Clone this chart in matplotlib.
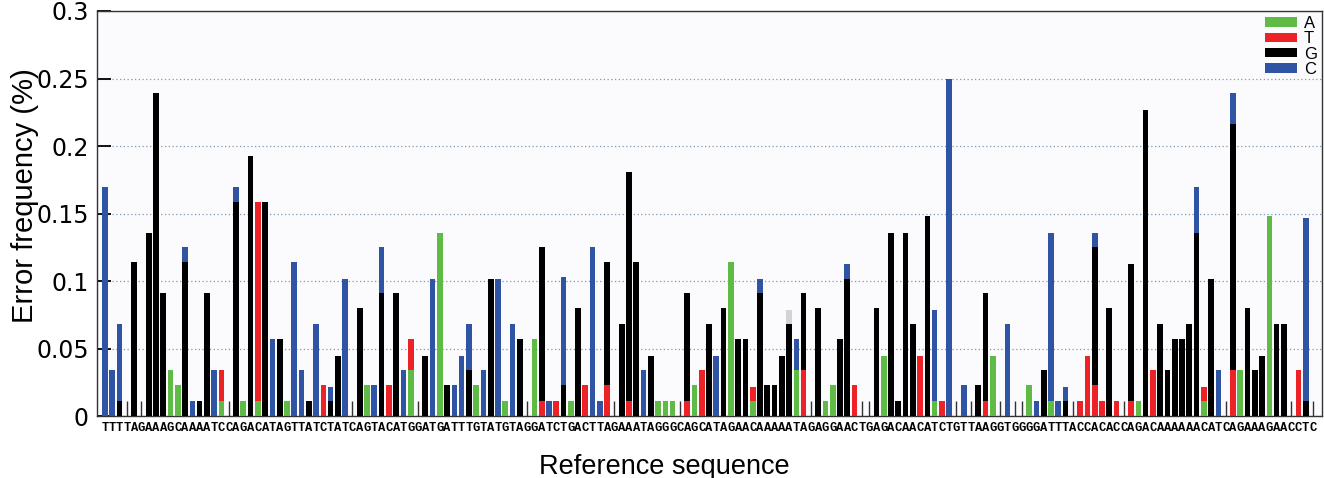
import numpy as np
import matplotlib.pyplot as plt
from matplotlib.patches import Patch

# -----------------------------
# Data: reference sequence and error frequency (%) per position
# -----------------------------
ref_seq = ("TTTTAGAAAGCAAAATCCAGACATAGTTATCTATCAGTACATGGATGATTTGTATGTAGGATCTGACTTA"
           "GAAATAGGGCAGCATAGAACAAAAATAGAGGAACTGAGACAACATCTGTTAAGGTGGGGATTTACCACAC"
           "CAGACAAAAAACATCAGAAAGAACCTC")

# position -> error frequency, one dict per substituted base
err_A = {9: 0.034, 10: 0.023, 16: 0.011, 19: 0.011, 21: 0.011, 25: 0.011, 36: 0.023,
         42: 0.034, 46: 0.136, 51: 0.023, 55: 0.011, 59: 0.057, 64: 0.011, 76: 0.011,
         77: 0.011, 78: 0.011, 81: 0.023, 86: 0.114, 89: 0.011, 95: 0.034, 99: 0.011,
         100: 0.023, 107: 0.045, 114: 0.011, 122: 0.045, 127: 0.023, 130: 0.011,
         142: 0.011, 151: 0.011, 156: 0.034, 160: 0.148}

err_T = {16: 0.023, 21: 0.148, 30: 0.023, 39: 0.023, 42: 0.023, 60: 0.011, 62: 0.011,
         66: 0.023, 69: 0.023, 72: 0.011, 80: 0.011, 82: 0.034, 89: 0.011, 96: 0.034,
         103: 0.023, 112: 0.045, 115: 0.011, 121: 0.011, 134: 0.011, 135: 0.045,
         136: 0.023, 137: 0.011, 139: 0.011, 141: 0.011, 144: 0.034, 151: 0.011,
         155: 0.034, 164: 0.034}

err_G = {2: 0.011, 4: 0.114, 6: 0.136, 7: 0.239, 8: 0.091, 11: 0.114, 13: 0.011,
         14: 0.091, 18: 0.159, 20: 0.193, 22: 0.159, 24: 0.057, 28: 0.011, 31: 0.011,
         32: 0.045, 35: 0.080, 38: 0.091, 40: 0.091, 44: 0.045, 47: 0.023, 50: 0.034,
         53: 0.102, 57: 0.057, 60: 0.114, 63: 0.023, 65: 0.080, 69: 0.091, 71: 0.068,
         72: 0.170, 73: 0.114, 75: 0.045, 80: 0.080, 83: 0.068, 85: 0.080, 87: 0.057,
         88: 0.057, 90: 0.091, 91: 0.023, 92: 0.023, 93: 0.045, 94: 0.068, 96: 0.057,
         98: 0.080, 101: 0.057, 102: 0.102, 106: 0.080, 108: 0.136, 109: 0.011,
         110: 0.136, 111: 0.068, 113: 0.148, 120: 0.023, 121: 0.080, 129: 0.034,
         132: 0.011, 136: 0.102, 138: 0.080, 141: 0.102, 143: 0.227, 145: 0.068,
         146: 0.034, 147: 0.057, 148: 0.057, 149: 0.068, 150: 0.136, 152: 0.102,
         155: 0.182, 157: 0.080, 158: 0.034, 159: 0.045, 161: 0.068, 162: 0.068,
         165: 0.011}

err_C = {0: 0.170, 1: 0.034, 2: 0.057, 11: 0.011, 12: 0.011, 15: 0.034, 18: 0.011,
         23: 0.057, 26: 0.114, 27: 0.034, 29: 0.068, 31: 0.011, 33: 0.102, 37: 0.023,
         38: 0.034, 41: 0.034, 45: 0.102, 48: 0.023, 49: 0.045, 50: 0.034, 52: 0.034,
         54: 0.102, 56: 0.068, 61: 0.011, 63: 0.080, 67: 0.125, 68: 0.011, 74: 0.034,
         84: 0.045, 90: 0.011, 95: 0.023, 102: 0.011, 114: 0.068, 116: 0.250,
         118: 0.023, 124: 0.068, 128: 0.011, 130: 0.125, 131: 0.011, 132: 0.011,
         136: 0.011, 150: 0.034, 153: 0.034, 155: 0.023, 165: 0.136}

err_other = {94: 0.011}   # grey cap, not in legend

bases = ['A', 'T', 'G', 'C']
colors = {'A': '#5fba46', 'T': '#ec2227', 'G': '#000000', 'C': '#2f54a3'}

# -----------------------------
# Plot
# -----------------------------
fig = plt.figure(figsize=(13.24, 4.78), dpi=100)
ax = fig.add_axes([0.0733, 0.129, 0.925, 0.848])
ax.set_facecolor('#fbfbfd')

x = np.arange(len(ref_seq))
bottom = np.zeros(len(x))
layers = [(err_A, colors['A']), (err_T, colors['T']), (err_G, colors['G']),
          (err_C, colors['C']), (err_other, '#d3d3d3')]
for vals, col in layers:
    h = np.array([vals.get(i, 0.0) for i in x])
    ax.bar(x, h, width=0.78, bottom=bottom, color=col, edgecolor='none', zorder=3)
    bottom += h

# small marks where no error was seen
empty = x[bottom == 0]
ax.vlines(empty, 0, 0.011, color='#333333', lw=1.0, zorder=3)

ax.set_xlim(-1.1, 167.2)
ax.set_ylim(0, 0.3)
yt = [0, 0.05, 0.1, 0.15, 0.2, 0.25, 0.3]
ax.set_yticks(yt, ['0', '0.05', '0.1', '0.15', '0.2', '0.25', '0.3'])
ax.tick_params(axis='y', direction='in', length=10, width=1.3, labelsize=17, pad=6)
ax.set_xticks(x, list(ref_seq), fontfamily='Liberation Mono', fontweight='bold',
              fontsize=8.7)
ax.tick_params(axis='x', length=0, pad=4)
ax.yaxis.grid(True, linestyle=(0, (1, 2)), color='#7d98b3', lw=0.9)
ax.set_axisbelow(True)
for s in ax.spines.values():
    s.set_color('#333333')
    s.set_linewidth(1.0)

ax.set_ylabel('Error frequency (%)', fontsize=21, fontfamily='Liberation Sans')
ax.yaxis.set_label_coords(-0.047, 0.545)
ax.set_xlabel('Reference sequence', fontsize=19.5, fontfamily='Liberation Sans')
ax.xaxis.set_label_coords(0.463, -0.092)

handles = [Patch(facecolor=colors[b], edgecolor='none') for b in bases]
ax.legend(handles, bases, loc='upper right', frameon=False,
          handlelength=1.9, handleheight=0.48, labelspacing=0.02, handletextpad=0.4,
          borderaxespad=0.0, borderpad=0.3,
          prop={'family': 'Liberation Sans', 'size': 12})

plt.savefig('out.png', dpi=100)
